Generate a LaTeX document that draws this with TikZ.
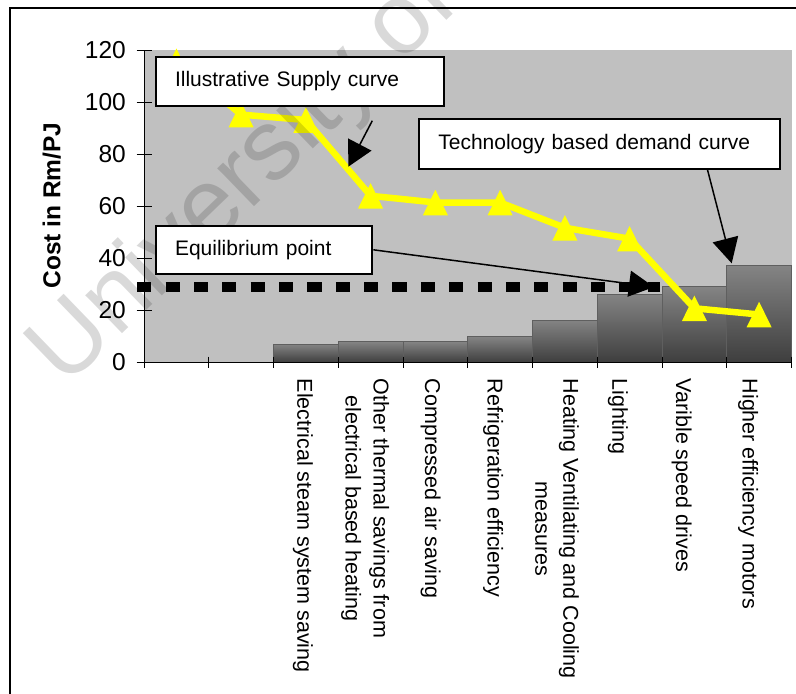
\documentclass[tikz,border=0pt]{standalone}
\usepackage{fontspec}
\setmainfont{Liberation Sans}
\usetikzlibrary{arrows.meta}
\definecolor{plotbg}{RGB}{192,192,192}
\definecolor{bartop}{RGB}{132,132,132}
\definecolor{barbot}{RGB}{62,62,62}
\definecolor{barline}{RGB}{95,95,95}
\definecolor{supply}{RGB}{255,255,0}
\begin{document}
\begin{tikzpicture}[x=1pt,y=-1pt,
  callout/.style={draw=black,line width=2pt,fill=white,align=left,inner xsep=19pt,inner ysep=0pt,
    font=\fontsize{21}{25}\selectfont},
  catlabel/.style={rotate=-90,anchor=west,inner sep=0pt,align=center,
    font=\fontsize{21.5}{28}\selectfont},
  ticklabel/.style={anchor=east,inner sep=0pt,font=\fontsize{24.5}{28}\selectfont},
  axisline/.style={draw=black,line width=1pt},
  callarrow/.style={draw=black,line width=1.5pt,-{Triangle[length=25pt,width=26pt]}},
  supplyline/.style={draw=supply,line width=6.5pt,line join=round},
  barstyle/.style={top color=bartop,bottom color=barbot,draw=barline,line width=0.6pt}
]
\useasboundingbox (0,0) rectangle (796,694);
\clip (0,0) rectangle (796,694);
\fill[white] (0,0) rectangle (796,694);
% outer frame
\draw[black,line width=2.5pt] (10,700) -- (10,8) -- (800,8);
% plot area
\fill[plotbg] (144,50) rectangle (791.7,362.3);
% bars
\foreach \xa/\xb/\yt in {273.5/338.2/344, 338.2/403/341.7, 403/467.7/341.7, 467.7/532.5/336.7,
  532.5/597.2/320, 597.2/662/294.3, 662/726.7/286.7, 726.7/791.7/265.7}
  \shade[barstyle] (\xa,\yt) rectangle (\xb,362.3);
% axes
\draw[axisline] (144,50) -- (144,362.3) -- (791.7,362.3);
\foreach \v in {0,20,...,120}
  \draw[axisline] (136.7,{362.3-2.6*\v}) -- (151.7,{362.3-2.6*\v});
\foreach \k in {0,...,10}
  \draw[axisline] ({144+64.75*\k},356.7) -- ({144+64.75*\k},368.3);
% tick labels
\foreach \v in {0,20,...,120}
  \node[ticklabel] (t\v) at (126,{362.3-2.6*\v}) {\v};
\node[rotate=90,inner sep=0pt,font=\bfseries\fontsize{24.5}{28}\selectfont] (ytitle) at (51.7,205.5) {Cost in Rm/PJ};
% equilibrium dashed line
\draw[black,line width=10pt,dash pattern=on 14.1pt off 14.25pt] (137.3,287.3) -- (660,287.3);
% supply curve
\draw[supplyline] (176.4,61.2) -- (241.1,114.6) -- (305.9,120) -- (370.6,195.8) -- (435.4,202.5)
  -- (500.1,202.5) -- (564.9,227.8) -- (629.6,238.7) -- (694.4,308.3) -- (759.1,314.5);
\foreach \px/\py in {176.4/61.2, 241.1/114.6, 305.9/120, 370.6/195.8, 435.4/202.5,
  500.1/202.5, 564.9/227.8, 629.6/238.7, 694.4/308.3, 759.1/314.5}
  \fill[supply] ({\px-12.5},{\py+12.75}) -- ({\px+12.5},{\py+12.75}) -- (\px,{\py-12.75}) -- cycle;
% watermark (below the callout boxes)
\node[rotate=44,anchor=base west,inner sep=0pt,text=black,text opacity=0.15,
  font=\fontsize{100}{104}\selectfont] (wm) at (65,389) {University of};
% callouts
\node[callout,minimum width=288.3pt,minimum height=49.3pt,text width=250.3pt] (sup) at (300.2,81.3) {Illustrative Supply curve};
\node[callout,minimum width=216.3pt,minimum height=48.3pt,text width=178.3pt] (eq) at (264.2,249.8) {Equilibrium point};
\node[callout,minimum width=361pt,minimum height=49.7pt,text width=323pt] (tech) at (599.8,144.2) {Technology based demand curve};
\coordinate (supstart) at (372.3,120.7);
\coordinate (suptip) at (348.3,166.7);
\coordinate (eqtip) at (654,287);
\coordinate (techstart) at (707.3,169);
\coordinate (techtip) at (731.7,263.3);
\draw[callarrow] (supstart) -- (suptip);
\draw[callarrow] (eq.east) -- (eqtip);
\draw[callarrow] (techstart) -- (techtip);
% category labels
\node[catlabel] (c3) at (303,378.5) {Electrical steam system saving};
\node[catlabel] (c4) at (365.3,378.5) {Other thermal savings from\\electrical based heating};
\node[catlabel] (c5) at (430.8,378.5) {Compressed air saving};
\node[catlabel] (c6) at (493.3,378.5) {Refrigeration efficiency};
\node[catlabel] (c7) at (557,378.5) {Heating Ventilating and Cooling\\measures};
\node[catlabel] (c8) at (618,378.5) {Lighting};
\node[catlabel] (c9) at (681.7,378.5) {Varible speed drives};
\node[catlabel] (c10) at (748.3,378.5) {Higher efficiency motors};
\end{tikzpicture}
\end{document}
